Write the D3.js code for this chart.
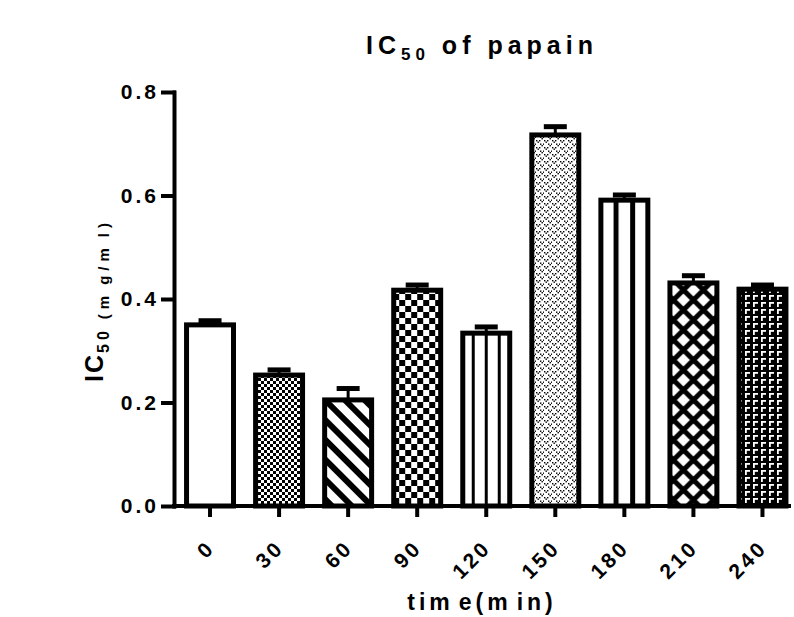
<!DOCTYPE html>
<html>
<head>
<meta charset="utf-8">
<script src="https://cdnjs.cloudflare.com/ajax/libs/d3/7.8.5/d3.min.js"></script>
<style>
  body { margin: 0; background: #fff; }
  svg text { font-family: "Liberation Sans", Arial, sans-serif; font-weight: bold; fill: #000; }
</style>
</head>
<body>
<svg id="chart" width="794" height="617"></svg>
<script>
// values
const categories = ["0", "30", "60", "90", "120", "150", "180", "210", "240"];
const ic50 = [0.350, 0.253, 0.205, 0.417, 0.334, 0.717, 0.591, 0.431, 0.419];
const sem = [0.008, 0.010, 0.022, 0.010, 0.012, 0.016, 0.010, 0.014, 0.008];
const yTicks = [0, 0.2, 0.4, 0.6, 0.8];
const fills = ["none", "checkSmall", "stripe", "checkBig", "vThin", "dots", "vThick", "lattice", "corner"];

const svg = d3.select("#chart");
const yAxisX = 174;

const x = d3.scaleBand().domain(categories).range([175.5, 797]).paddingInner(0.32).paddingOuter(0.16);
const y = d3.scaleLinear().domain([0, 0.8]).range([506, 92]);

// split text so that a small gap follows every "m", like the exported figure
function spaced(sel, str, gap) {
    const parts = str.split(/(?<=m)/);
    parts.forEach((p, i) => {
        sel.append("tspan").attr("dx", i ? gap : null).text(p);
    });
    return sel;
}

// patterns
const defs = svg.append("defs");
categories.forEach((c, i) => {
    const cx = x(c) + x.bandwidth() / 2;
    const kind = fills[i];
    const p = defs.append("pattern").attr("id", "pat" + i).attr("patternUnits", "userSpaceOnUse");
    if (kind === "checkSmall") {
        p.attr("width", 6).attr("height", 6);
        p.append("rect").attr("width", 6).attr("height", 6).attr("fill", "#fff");
        p.append("rect").attr("width", 3).attr("height", 3).attr("fill", "#000");
        p.append("rect").attr("x", 3).attr("y", 3).attr("width", 3).attr("height", 3).attr("fill", "#000");
    } else if (kind === "checkBig") {
        p.attr("width", 12).attr("height", 12).attr("x", cx - 6);
        p.append("rect").attr("width", 12).attr("height", 12).attr("fill", "#fff");
        p.append("rect").attr("width", 6).attr("height", 6).attr("fill", "#000");
        p.append("rect").attr("x", 6).attr("y", 6).attr("width", 6).attr("height", 6).attr("fill", "#000");
    } else if (kind === "stripe") {
        p.attr("width", 14).attr("height", 14).attr("patternTransform", "rotate(-45)");
        p.append("rect").attr("width", 14).attr("height", 14).attr("fill", "#fff");
        p.append("rect").attr("width", 6).attr("height", 14).attr("fill", "#000");
    } else if (kind === "vThin") {
        p.attr("width", 13).attr("height", 10).attr("x", cx - 1.5);
        p.append("rect").attr("width", 13).attr("height", 10).attr("fill", "#fff");
        p.append("rect").attr("width", 3).attr("height", 10).attr("fill", "#000");
    } else if (kind === "vThick") {
        p.attr("width", 16.6).attr("height", 10).attr("x", cx - 10.8);
        p.append("rect").attr("width", 16.6).attr("height", 10).attr("fill", "#fff");
        p.append("rect").attr("width", 5).attr("height", 10).attr("fill", "#000");
    } else if (kind === "dots") {
        p.attr("width", 8).attr("height", 7);
        p.append("rect").attr("width", 8).attr("height", 7).attr("fill", "#fff");
        [[0, 0], [3, 0], [1.5, 1.5], [4, 3.5], [7, 3.5], [5.5, 5]].forEach(d => {
            p.append("rect").attr("x", d[0]).attr("y", d[1]).attr("width", 1.4).attr("height", 1.4).attr("fill", "#000");
        });
    } else if (kind === "lattice") {
        p.attr("width", 20).attr("height", 20).attr("x", cx - 10);
        p.append("rect").attr("width", 20).attr("height", 20).attr("fill", "#000");
        const h = 6.5;
        [[0, 0], [20, 0], [0, 20], [20, 20], [10, 10]].forEach(d => {
            p.append("path")
                .attr("d", `M${d[0]},${d[1] - h}L${d[0] + h},${d[1]}L${d[0]},${d[1] + h}L${d[0] - h},${d[1]}Z`)
                .attr("fill", "#fff");
        });
    } else if (kind === "corner") {
        p.attr("width", 8).attr("height", 7);
        p.append("rect").attr("width", 8).attr("height", 7).attr("fill", "#000");
        p.append("rect").attr("x", 1).attr("y", 1).attr("width", 5).attr("height", 1.8).attr("fill", "#fff");
        p.append("rect").attr("x", 1).attr("y", 1).attr("width", 1.8).attr("height", 5).attr("fill", "#fff");
    }
});

// bars
const bars = svg.append("g").selectAll("g")
    .data(categories)
    .enter().append("g");

bars.append("rect")
    .attr("x", d => x(d))
    .attr("y", (d, i) => y(ic50[i]))
    .attr("width", x.bandwidth())
    .attr("height", (d, i) => y(0) - y(ic50[i]))
    .attr("fill", (d, i) => fills[i] === "none" ? "#fff" : "url(#pat" + i + ")")
    .attr("stroke", "#000")
    .attr("stroke-width", 5);

// error bars (upper only)
bars.append("line")
    .attr("x1", d => x(d) + x.bandwidth() / 2)
    .attr("x2", d => x(d) + x.bandwidth() / 2)
    .attr("y1", (d, i) => y(ic50[i]))
    .attr("y2", (d, i) => y(ic50[i] + sem[i]))
    .attr("stroke", "#000")
    .attr("stroke-width", 3);

bars.append("line")
    .attr("x1", d => x(d) + x.bandwidth() / 2 - 11.5)
    .attr("x2", d => x(d) + x.bandwidth() / 2 + 11.5)
    .attr("y1", (d, i) => y(ic50[i] + sem[i]))
    .attr("y2", (d, i) => y(ic50[i] + sem[i]))
    .attr("stroke", "#000")
    .attr("stroke-width", 5);

// axes
const xAxis = svg.append("g")
    .attr("transform", "translate(0," + y(0) + ")")
    .call(d3.axisBottom(x).tickSize(11).tickSizeOuter(0));
xAxis.select(".domain").attr("d", `M${yAxisX - 2},0H${x.range()[1] - 6}`);
xAxis.selectAll("line, path").attr("stroke", "#000").attr("stroke-width", 4);
xAxis.selectAll("text")
    .attr("x", 0).attr("y", 0).attr("dy", 0)
    .attr("text-anchor", "end")
    .attr("transform", "translate(6,43) rotate(-45)")
    .style("font-size", "21px")
    .style("letter-spacing", "3px");

const yAxis = svg.append("g")
    .attr("transform", "translate(" + yAxisX + ",0)")
    .call(d3.axisLeft(y).tickValues(yTicks).tickFormat(d3.format(".1f")).tickSize(11).tickSizeOuter(0).tickPadding(4));
yAxis.selectAll("line, path").attr("stroke", "#000").attr("stroke-width", 4).attr("stroke-linecap", "square");
yAxis.selectAll("text")
    .style("font-size", "21px")
    .style("letter-spacing", "3px");

// title
const title = svg.append("text")
    .attr("x", 482).attr("y", 54)
    .attr("text-anchor", "middle")
    .style("letter-spacing", "5px");
title.append("tspan").style("font-size", "25px").text("IC");
title.append("tspan").style("font-size", "17px").attr("dy", 6).text("50");
title.append("tspan").style("font-size", "25px").attr("dy", -6).text(" of papain");

// y label
const yLabel = svg.append("text")
    .attr("transform", "translate(103,300) rotate(-90)")
    .attr("text-anchor", "middle");
yLabel.append("tspan").style("font-size", "25px").style("letter-spacing", "2px").text("IC");
yLabel.append("tspan").style("font-size", "16px").style("letter-spacing", "4px").attr("dy", 6).text("50");
const unit = yLabel.append("tspan").style("font-size", "15px").style("letter-spacing", "5px").attr("dx", 8);
spaced(unit, "(mg/ml)", 6);

// x label
const xLabel = svg.append("text")
    .attr("x", 482).attr("y", 610)
    .attr("text-anchor", "middle")
    .style("font-size", "23px")
    .style("letter-spacing", "4px");
spaced(xLabel, "time(min)", 5);
</script>
</body>
</html>
